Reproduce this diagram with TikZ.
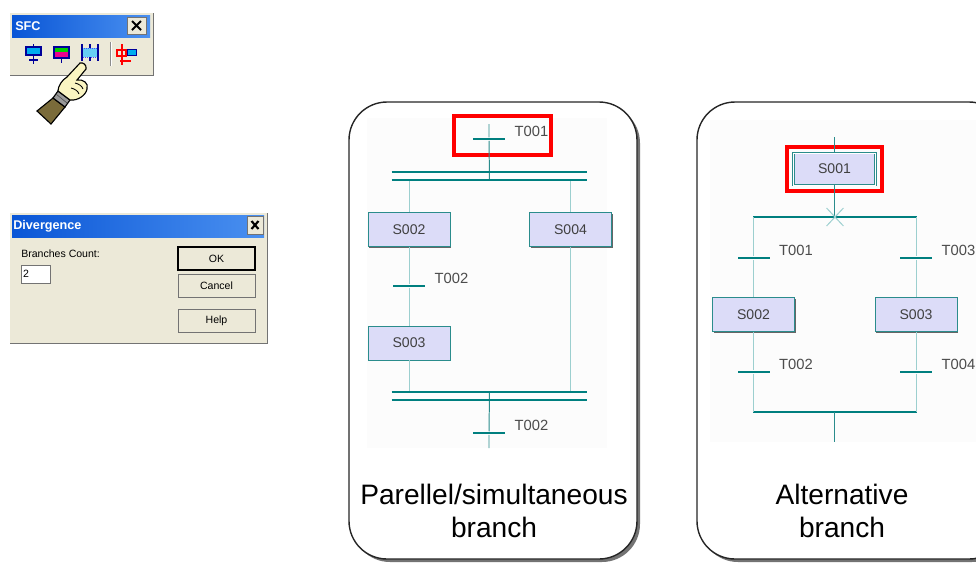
\documentclass[tikz,border=0pt]{standalone}
\usepackage{fontspec}
\setmainfont{Liberation Sans}
\usetikzlibrary{positioning, fit, shadows}

\definecolor{sfcteal}{HTML}{007F7F}
\definecolor{sfcline}{HTML}{2A8C8C}
\definecolor{sfclight}{HTML}{9CCFCF}
\definecolor{steplav}{HTML}{DCDCF8}
\definecolor{winbeige}{HTML}{ECE9D8}
\definecolor{winblue}{HTML}{0A56D6}
\definecolor{winblue2}{HTML}{4A90F0}
\definecolor{skin}{HTML}{FAF5C2}
\definecolor{sleeve}{HTML}{7A6B3A}

\begin{document}
\begin{tikzpicture}[x=0.025cm, y=-0.025cm,
    stepbox/.style={rectangle, draw=sfcline, fill=steplav, minimum width=2.05cm, minimum height=0.85cm, inner sep=0pt,
        font=\fontsize{10}{12}\selectfont, text=black!75,
        drop shadow={shadow xshift=0.9pt, shadow yshift=-0.9pt, fill=black!60, opacity=1}},
    initstep/.style={stepbox, minimum height=0.8cm, double=white, double distance=0.7pt},
    trans/.style={rectangle, fill=sfcteal, minimum width=0.8cm, minimum height=2.1pt, inner sep=0pt,
        label={[tname, xshift=5.4pt, yshift=5.7pt]east:#1}},
    tname/.style={font=\fontsize{10.5}{12}\selectfont, text=black!70, inner sep=1pt},
    pbar/.style={rectangle, minimum width=4.875cm, minimum height=0.2cm, inner sep=0pt},
    altbar/.style={rectangle, fill=sfcteal, minimum width=4.1cm, minimum height=2.1pt, inner sep=0pt},
    link/.style={draw=sfcline, line width=0.7pt},
    branch/.style={draw=sfclight, line width=0.7pt},
    dbar/.style={draw=sfcteal, line width=1.4pt},
    hilite/.style={rectangle, draw=red, line width=2.8pt, inner sep=0pt},
    panel/.style={draw=black!85, line width=1pt, fill=white, rounded corners=0.95cm},
    caption/.style={font=\fontsize{20}{24}\selectfont, align=center},
    wintitle/.style={font=\fontsize{9}{11}\selectfont\bfseries, text=white, inner sep=0pt},
    wintext/.style={font=\fontsize{7.5}{9}\selectfont, inner sep=0pt},
    winbtn/.style={rectangle, draw=black!55, fill=winbeige, minimum width=1.925cm, minimum height=0.57cm,
        font=\fontsize{7.5}{9}\selectfont, inner sep=0pt}]

\useasboundingbox (0,0) rectangle (976,562);

% SFC toolbar
\fill[black!55] (10,13) rectangle (154,76);
\fill[winbeige] (9,12) rectangle (153,75);
\draw[white] (9.5,74.5) -- (9.5,12.5) -- (152.5,12.5);
\shade[left color=winblue, right color=winblue2] (12,15) rectangle (150,37);
\node[wintitle, anchor=west] (sfc) at (15,26) {SFC};
\draw[fill=winbeige, draw=black!55] (127,17) rectangle (146,34);
\draw[line width=1.5pt] (132,21) -- (141,30) (132,30) -- (141,21);
% toolbar icons
\draw[blue!60!black, line width=1.2pt] (33.5,44) -- (33.5,64) (29,60) -- (38,60);
\draw[fill=cyan, draw=blue!60!black, line width=1pt] (26,47) rectangle (41,55);
\draw[blue!60!black, line width=1.2pt] (61.5,57) -- (61.5,63);
\fill[green!80!black] (54,47) rectangle (69,52);
\fill[magenta] (54,52) rectangle (69,58);
\draw[blue!60!black, line width=1pt] (54,47) rectangle (69,58);
\draw[fill=cyan!60, draw=blue!70, densely dotted] (82,48) rectangle (98,57);
\draw[blue!60!black, line width=1.3pt] (82,44) -- (82,61) (98,44) -- (98,61) (90,44) -- (90,48) (90,57) -- (90,61);
\draw[black!45] (110,42) -- (110,66);
\draw[white] (111,42) -- (111,66);
\draw[red, line width=1pt] (122,44) -- (122,65) (117,50) rectangle (126,56) (120,61) -- (131,61);
\draw[fill=cyan, draw=blue!60!black] (127,49) rectangle (136,55);

% pointing hand
\draw[fill=sleeve, line width=0.8pt] (53,98) -- (65,107) -- (51,124) -- (37,111) -- cycle;
\draw[fill=black!40, line width=0.8pt] (58,91) -- (70,100) -- (65,107) -- (53,98) -- cycle;
\draw[black!70] (56,94) -- (67,103);
\draw[fill=skin, line width=0.8pt] (80,63) .. controls (83,62) and (87,65) .. (86,69) -- (77,80)
    .. controls (83,79) and (89,83) .. (87,89) .. controls (86,95) and (78,101) .. (70,100)
    -- (58,91) .. controls (58,86) and (62,80) .. (67,77) -- cycle;
\draw[line width=0.6pt] (75,83) .. controls (79,84) and (82,86) .. (83,89)
    (71,88) .. controls (75,89) and (78,91) .. (79,94);

% Divergence dialog
\fill[black!55] (10,213) rectangle (268,344);
\fill[winbeige] (9,212) rectangle (267,343);
\draw[white] (9.5,342.5) -- (9.5,212.5) -- (266.5,212.5);
\shade[left color=winblue, right color=winblue2] (12,215) rectangle (264,237);
\node[wintitle, anchor=west] (divtitle) at (13,226) {Divergence};
\draw[fill=winbeige, draw=black!55] (247,216) rectangle (263,234);
\draw[line width=1.5pt] (251.5,221) -- (258.5,229) (251.5,229) -- (258.5,221);
\node[wintext, anchor=west] (cntlabel) at (21,254) {Branches Count:};
\node[rectangle, draw=black!55, fill=white, minimum width=0.725cm, minimum height=0.45cm, inner sep=1.5pt,
    text width=0.62cm, align=left, font=\fontsize{7.5}{9}\selectfont] (cnt) at (35.5,274) {2};
\node[winbtn, draw=black, line width=1pt] (okbtn) at (216.5,258.5) {OK};
\node[winbtn] (cancelbtn) at (216.5,286) {Cancel};
\node[winbtn] (helpbtn) at (216.5,321) {Help};

% frames for the two branch types
\fill[black!55, rounded corners=0.95cm] (352,105) rectangle (640,562);
\draw[panel] (349,102) rectangle (637,559);
\fill[black!55, rounded corners=0.95cm] (700,105) rectangle (1010,562);
\draw[panel] (697,102) rectangle (1007,559);
\fill[gray!2.5] (367,118) rectangle (607,448);
\fill[gray!2.5] (710,120) rectangle (976,442);

% parallel / simultaneous branch
\coordinate (in1) at (489,124);
\node[trans=T001] (pt1) at (489,139) {};
\node[hilite, minimum width=2.43cm, minimum height=0.98cm] (mark1) at (502.5,135.5) {};
\node[pbar] (fork1) at (489.5,176) {};
\node[stepbox] (ps2) at (409,229.5) {S002};
\node[stepbox] (ps4) at (570.5,229.5) {S004};
\node[trans=T002] (pt2) at (409,286) {};
\node[stepbox] (ps3) at (409,343) {S003};
\node[pbar] (join1) at (489.5,396) {};
\node[trans=T002] (pt3) at (489,433) {};
\coordinate (out1) at (489,448);

\draw[link] (in1) -- (pt1) -- (fork1.south);
\draw[branch] (ps2 |- fork1.south) -- (ps2) -- (pt2) -- (ps3) -- (ps3 |- join1.north);
\draw[branch] (ps4 |- fork1.south) -- (ps4) -- (ps4 |- join1.north);
\draw[link] (join1.north) -- (pt3) -- (out1);
\draw[dbar] (fork1.north west) -- (fork1.north east) (fork1.south west) -- (fork1.south east);
\draw[dbar] (join1.north west) -- (join1.north east) (join1.south west) -- (join1.south east);

\node[caption] (cap1) at (494,511) {Parellel/simultaneous\\branch};

% alternative branch
\coordinate (in2) at (834.5,137);
\node[initstep] (as1) at (834.5,169) {S001};
\node[hilite, fit=(as1), inner sep=4.3pt] (mark2) {};
\node[altbar] (div2) at (835,217) {};
\node[trans=T001] (at1) at (753.5,258) {};
\node[trans=T003] (at3) at (916,258) {};
\node[stepbox] (as2) at (753.5,314.5) {S002};
\node[stepbox] (as3) at (916,314.5) {S003};
\node[trans=T002] (at2) at (753.5,372) {};
\node[trans=T004] (at4) at (916,372) {};
\node[altbar] (join2) at (835,412) {};
\coordinate (out2) at (834.5,442);

\draw[link] (in2) -- (as1) -- (as1 |- div2);
\draw[branch] ([shift={(-6pt,6.4pt)}]div2.center) -- ([shift={(6pt,-6.4pt)}]div2.center)
    ([shift={(-6pt,-6.4pt)}]div2.center) -- ([shift={(6pt,6.4pt)}]div2.center);
\draw[branch] (as2 |- div2) -- (at1) -- (as2) -- (at2) -- (as2 |- join2);
\draw[branch] (as3 |- div2) -- (at3) -- (as3) -- (at4) -- (as3 |- join2);
\draw[link] (as1 |- join2) -- (out2);

\node[caption] (cap2) at (842,511) {Alternative\\branch};
\end{tikzpicture}
\end{document}
